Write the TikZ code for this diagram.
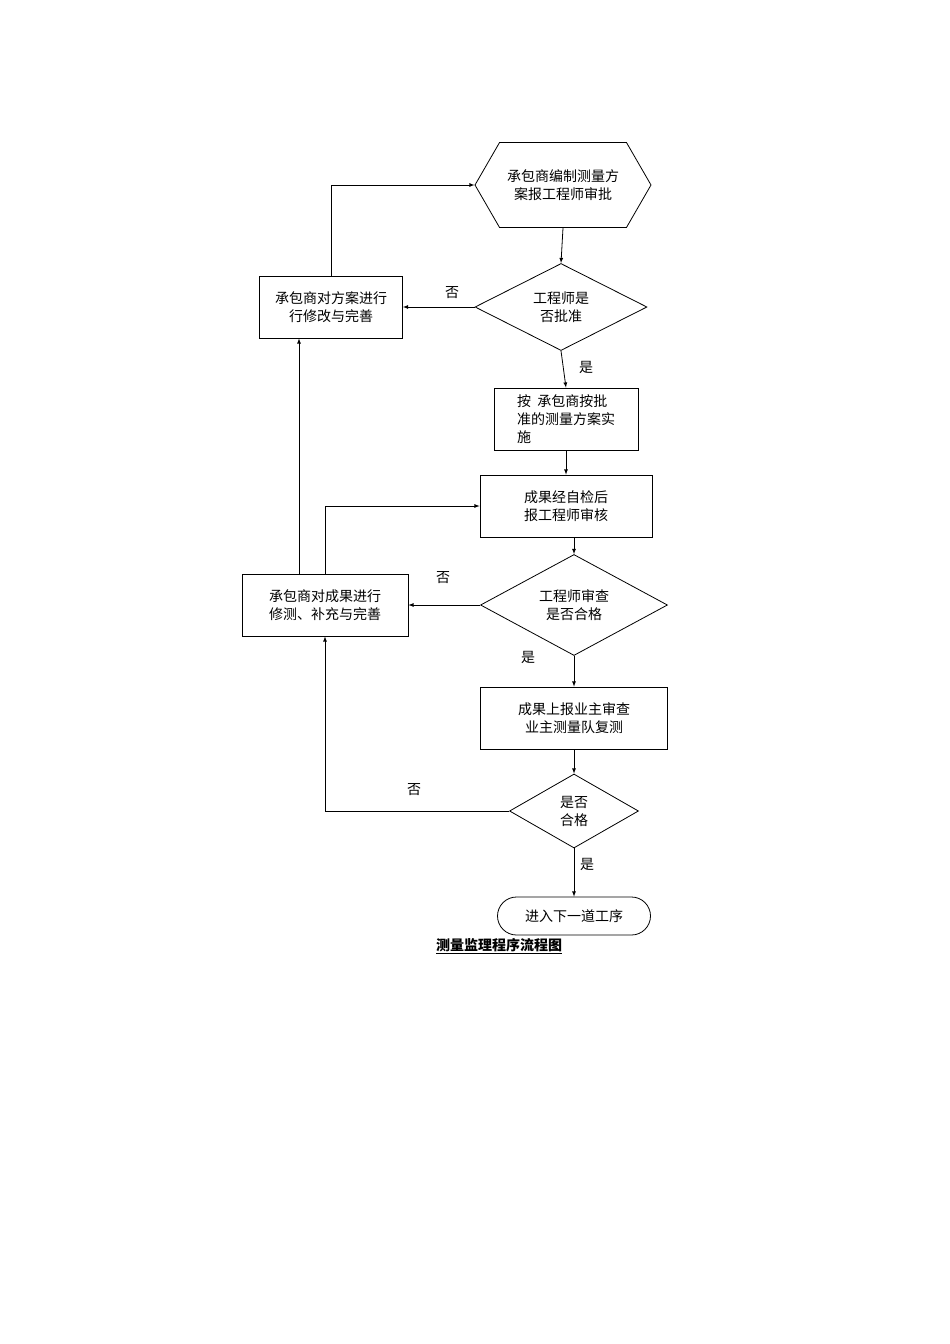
\documentclass[tikz,border=0pt]{standalone}
\usepackage{fontspec}
\newfontfamily\cjk{Noto Sans CJK SC}
\usetikzlibrary{shapes.geometric,shapes.symbols,shapes.misc}
\tikzset{
  base/.style={draw,thick,font=\cjk\fontsize{14pt}{18pt}\selectfont,inner sep=2pt,align=center},
  box/.style={base,rectangle,minimum width=#1,minimum height=62pt},
  dec/.style={base,diamond,inner sep=0pt},
  lbl/.style={font=\cjk\fontsize{14pt}{18pt}\selectfont},
  flow/.style={thick,-latex}
}
\begin{document}
\begin{tikzpicture}[x=1pt,y=-1pt]
	\useasboundingbox (0,0) rectangle (950,1344);
	%nodes
	\node[base,signal,signal to=west and east,signal pointer angle=120,minimum width=176pt,minimum height=85pt] (plan) at (563,185) {承包商编制测量方\\案报工程师审批};
	\node[dec,minimum width=172pt,minimum height=87pt] (approve) at (561,307) {工程师是\\否批准};
	\node[box=143pt] (revise) at (331,307) {承包商对方案进行\\行修改与完善};
	\node[box=144pt,align=left] (implement) at (566,419) {按\ \ 承包商按批\\准的测量方案实\\施};
	\node[box=172pt] (selfcheck) at (566,506) {成果经自检后\\报工程师审核};
	\node[dec,minimum width=187pt,minimum height=87pt] (review) at (574,605) {工程师审查\\是否合格};
	\node[box=166pt] (redo) at (325,605) {承包商对成果进行\\修测、补充与完善};
	\node[box=187pt] (owner) at (574,718) {成果上报业主审查\\业主测量队复测};
	\node[dec,minimum width=129pt,minimum height=74pt] (pass) at (574,811) {是否\\合格};
	\node[base,rounded rectangle,minimum width=157pt,minimum height=38pt] (next) at (574,916) {进入下一道工序};
	\node[lbl,font=\cjk\bfseries\fontsize{14pt}{18pt}\selectfont] (title) at (499,946) {\underline{测量监理程序流程图}};
	%connectors
	\draw[flow] (plan.south) -- (approve.north);
	\draw[flow] (approve.west) -- (revise.east);
	\draw[flow] (revise.north) |- (plan.west);
	\draw[flow] (approve.south) -- (implement.north);
	\draw[flow] (implement.south) -- (selfcheck.north);
	\draw[flow] ([xshift=8pt]selfcheck.south) -- (review.north);
	\draw[flow] (review.west) -- (redo.east);
	\draw[flow] (redo.north) |- (selfcheck.west);
	\draw[flow] ([xshift=-26pt]redo.north) -- ([xshift=-32pt]revise.south);
	\draw[flow] (review.south) -- (owner.north);
	\draw[flow] (owner.south) -- (pass.north);
	\draw[flow] (pass.west) -| (redo.south);
	\draw[flow] (pass.south) -- (next.north);
	%labels
	\node[lbl] at (452,293) {否};
	\node[lbl] at (586,367) {是};
	\node[lbl] at (443,578) {否};
	\node[lbl] at (528,657) {是};
	\node[lbl] at (414,790) {否};
	\node[lbl] at (587,864) {是};
\end{tikzpicture}
\end{document}
